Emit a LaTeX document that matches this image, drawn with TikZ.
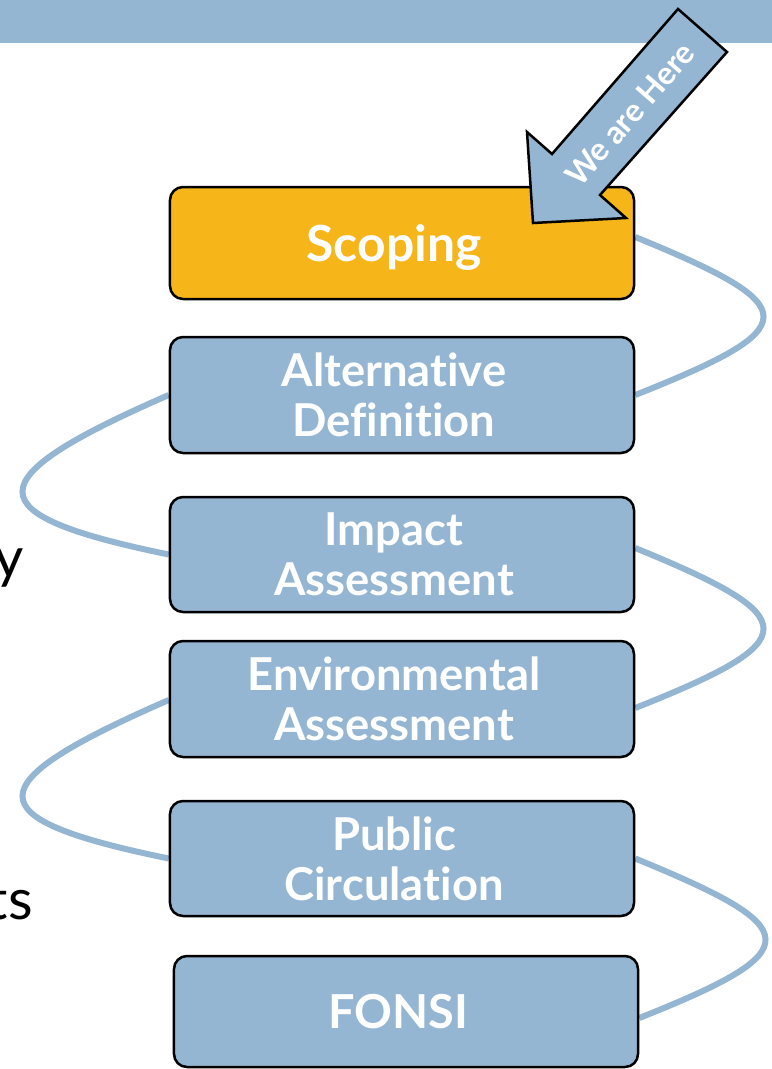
\documentclass[tikz,border=0pt]{standalone}
\usepackage{fontspec}
\setmainfont{Lato}[RawFeature=-liga]
\usetikzlibrary{backgrounds,calc}
\definecolor{stepblue}{HTML}{95B6D3}
\definecolor{stepgold}{HTML}{F6B519}
\begin{document}
\begin{tikzpicture}[x=1bp,y=1bp,
  box/.style={draw=black, line width=2.5bp, rounded corners=13bp, minimum width=464bp, inner sep=0pt},
  boxtext/.style={text=white, font=\fontsize{45.5}{50}\selectfont\bfseries, align=center, text depth=0pt, inner sep=0pt},
  link/.style={draw=stepblue, line width=6bp},
  frag/.style={anchor=base east, inner sep=0pt, font=\fontsize{57}{60}\selectfont}]
\useasboundingbox (0,0) rectangle (772,-1069);
\fill[stepblue] (0,0) rectangle (772,-43);

\node[box, fill=stepgold, minimum height=112bp] (sc) at (402,-243) {};
\node[box, fill=stepblue, minimum height=116bp] (alt) at (402,-395) {};
\node[box, fill=stepblue, minimum height=115bp] (imp) at (402,-554.5) {};
\node[box, fill=stepblue, minimum height=116bp] (env) at (402,-699) {};
\node[box, fill=stepblue, minimum height=115bp] (pub) at (402,-858.5) {};
\node[box, fill=stepblue, minimum height=111bp] (fon) at (406,-1011.5) {};

\node[boxtext, font=\fontsize{50}{50}\selectfont\bfseries] (scT) at ($(sc.center)+(-8,0)$) {Scoping};
\node[boxtext] (altT) at ($(alt.center)+(-8,0)$) {Alternative\\Definition};
\node[boxtext] (impT) at ($(imp.center)+(-8,0)$) {Impact\\Assessment};
\node[boxtext] (envT) at ($(env.center)+(-8,0)$) {Environmental\\Assessment};
\node[boxtext] (pubT) at ($(pub.center)+(-8,0)$) {Public\\Circulation};
\node[boxtext, font=\fontsize{47}{50}\selectfont\bfseries] (fonT) at ($(fon.center)+(-8,0)$) {FONSI};

\begin{scope}[on background layer]
\draw[link] ($(sc.east)+(0,6)$) .. controls +(171,-70) and +(171,68) .. (alt.east);
\draw[link] (alt.west) .. controls +(-195,-85) and +(-195,40) .. (imp.west);
\draw[link] ($(imp.east)+(0,6.5)$) .. controls +(171,-70) and +(171,68) .. ($(env.east)+(0,-9)$);
\draw[link] ($(env.west)+(0,-1)$) .. controls +(-195,-85) and +(-195,40) .. (pub.west);
\draw[link] (pub.east) .. controls +(171,-70) and +(171,68) .. ($(fon.east)+(0,-6.5)$);
\end{scope}

\draw[line width=2.5bp, fill=stepblue, line join=miter] (678,-9) -- (727,-52) -- (600,-195) -- (626,-218) -- (533,-223) -- (527,-132) -- (552,-154) -- cycle;
\node[rotate=49, text=white, inner sep=0pt, font=\fontsize{32}{32}\selectfont\bfseries] (here) at (630,-114) {We are Here};

\node[frag] (frag1) at (24,-577) {y};
\node[frag] (frag2) at (33,-919) {ts};
\end{tikzpicture}
\end{document}
